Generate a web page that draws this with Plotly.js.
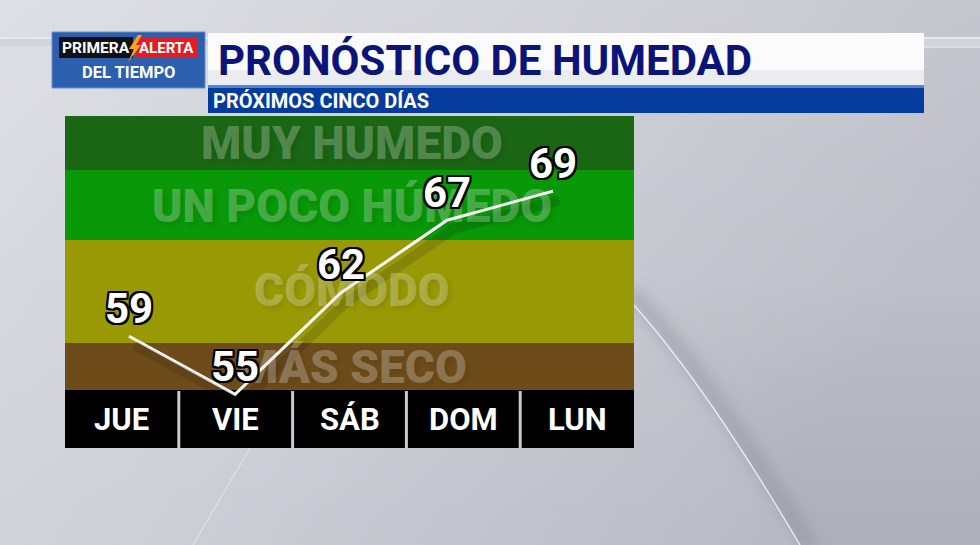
<!DOCTYPE html>
<html>
<head>
<meta charset="utf-8">
<script src="https://cdn.plot.ly/plotly-3.0.1.min.js"></script>
<style>
  html, body { margin: 0; padding: 0; background: #c8c9d1; }
  #chart { width: 980px; height: 545px; }
</style>
</head>
<body>
<div id="chart"></div>
<script>
// Five-day humidity outlook
const days = ['JUE', 'VIE', 'SÁB', 'DOM', 'LUN'];
const humidity = [59, 55, 62, 67, 69];
const bandLabels = ['MUY HUMEDO', 'UN POCO HÚMEDO', 'CÓMODO', 'MÁS SECO'];

const titleText = 'PRONÓSTICO DE HUMEDAD';
const subtitleText = 'PRÓXIMOS CINCO DÍAS';
const logoTop = ['PRIMERA', 'ALERTA'];
const logoBottom = 'DEL TIEMPO';

// ---- page geometry (pixels) ----
const W = 980, H = 545;
const X = p => p / W;          // pixel -> paper x
const Y = p => 1 - p / H;      // pixel -> paper y
const plot = { l: 65, r: 634, t: 116, b: 448 };
const bandEdges = [116, 170, 240, 343, 390];
const bandColors = ['#1a6614', '#089808', '#999906', '#6e4c1a'];
const bandTextY = [143, 206, 290, 367];
const bandTextX = 352;

const FONT = "Roboto, 'Liberation Sans', sans-serif";

// ---- background artwork ----
const bgSvg =
  "<svg xmlns='http://www.w3.org/2000/svg' width='980' height='545' viewBox='0 0 980 545'>" +
  "<defs>" +
  "<linearGradient id='g' x1='0' y1='0' x2='1' y2='0.35'>" +
  "<stop offset='0' stop-color='#dadbe1'/><stop offset='0.45' stop-color='#cdced6'/>" +
  "<stop offset='1' stop-color='#b9bac4'/></linearGradient>" +
  "<linearGradient id='v' x1='0' y1='0' x2='0' y2='1'>" +
  "<stop offset='0' stop-color='#ffffff' stop-opacity='0.12'/><stop offset='1' stop-color='#ffffff' stop-opacity='0'/></linearGradient>" +
  "<linearGradient id='d' gradientUnits='userSpaceOnUse' x1='0' y1='280' x2='0' y2='545'>" +
  "<stop offset='0' stop-color='#3c3d55' stop-opacity='0'/><stop offset='1' stop-color='#3c3d55' stop-opacity='0.09'/></linearGradient>" +
  "<filter id='b' x='-20%' y='-20%' width='140%' height='140%'><feGaussianBlur stdDeviation='7'/></filter>" +
  "</defs>" +
  "<rect width='980' height='545' fill='url(#g)'/>" +
  "<rect width='980' height='545' fill='url(#v)'/>" +
  "<rect x='0' y='37' width='980' height='11' fill='#d3d4db'/>" +
  "<line x1='0' y1='38' x2='980' y2='38' stroke='#eeeff3' stroke-width='1.5'/>" +
  "<line x1='0' y1='47' x2='980' y2='47' stroke='#e6e7ec' stroke-width='1'/>" +
  "<path d='M560 230 L620 290 Q698 372 800 545 L980 545 L980 230 Z' fill='url(#d)'/>" +
  "<path d='M620 290 Q698 372 800 545' transform='translate(10,2)' stroke='#7c7d8c' stroke-width='16' stroke-opacity='0.33' fill='none' filter='url(#b)'/>" +
  "<path d='M620 290 Q698 372 800 545' stroke='#eeeff3' stroke-width='1.3' fill='none'/>" +
  "<line x1='250' y1='448' x2='193' y2='545' stroke='#e6e7ec' stroke-width='1.2' stroke-opacity='0.8'/>" +
  "</svg>";
const bgUri = 'data:image/svg+xml;charset=utf-8,' + encodeURIComponent(bgSvg);

// ---- shapes ----
const rectPx = (x0, y0, x1, y1, fill, extra) => Object.assign({
  type: 'rect', xref: 'paper', yref: 'paper',
  x0: X(x0), x1: X(x1), y0: Y(y1), y1: Y(y0),
  fillcolor: fill, line: { width: 0 }, layer: 'below'
}, extra || {});

const shapes = [];
// humidity bands
for (let i = 0; i < bandColors.length; i++) {
  shapes.push(rectPx(plot.l, bandEdges[i], plot.r, bandEdges[i + 1], bandColors[i]));
}
// black day bar with separators
shapes.push(rectPx(plot.l, bandEdges[bandEdges.length - 1], plot.r, plot.b, '#000000'));
for (let i = 0; i < days.length - 1; i++) {
  shapes.push({
    type: 'line', xref: 'x2', yref: 'paper',
    x0: i + 0.5, x1: i + 0.5, y0: Y(plot.b), y1: Y(bandEdges[bandEdges.length - 1] + 1),
    line: { color: '#c9cad1', width: 3 }, layer: 'above'
  });
}

// header: logo block
shapes.push(rectPx(52, 32, 205, 88, '#2c5fae', { line: { color: '#6a90cc', width: 1 } }));
shapes.push(rectPx(59, 37, 133, 58, '#111111'));
shapes.push(rectPx(135, 37, 197, 58, '#e31b23'));
const bolt = [[138, 35], [129, 49], [134, 49], [128, 62], [141, 45], [136, 45], [142, 35]];
shapes.push({
  type: 'path', xref: 'paper', yref: 'paper', layer: 'below',
  path: 'M' + bolt.map(p => X(p[0]).toFixed(5) + ',' + Y(p[1]).toFixed(5)).join(' L') + ' Z',
  fillcolor: '#f6a31c', line: { width: 0 }
});
// header: title box and subtitle bar
shapes.push(rectPx(208, 33, 924, 85, '#fbfbfc'));
shapes.push(rectPx(208, 70, 924, 85, 'rgba(205,208,218,0.35)'));
shapes.push(rectPx(208, 85, 924, 88, '#4d86d8'));
shapes.push(rectPx(208, 88, 924, 113, '#063b9e'));

// ---- annotations ----
const annotations = [];
const txt = (text, xpx, ypx, size, color, anchor, extraFont) => ({
  text: text, xref: 'paper', yref: 'paper', x: X(xpx), y: Y(ypx),
  xanchor: anchor || 'center', yanchor: 'middle', showarrow: false,
  font: Object.assign({ family: FONT, size: size, color: color, weight: 'bold' }, extraFont || {})
});

annotations.push(txt(logoTop[0], 96, 48, 15.5, '#ffffff'));
annotations.push(txt(logoTop[1], 166, 48, 15, '#ffffff'));
annotations.push(txt(logoBottom, 128, 73, 16.5, '#ffffff'));
annotations.push(txt(titleText, 216, 60, 42, '#0b1478', 'left'));
annotations.push(txt(subtitleText, 211, 101, 20, '#ffffff', 'left'));

// category names across the bands
bandLabels.forEach((label, i) => {
  annotations.push(txt(label, bandTextX, bandTextY[i], 46, 'rgba(255,255,255,0.26)', 'center',
    { weight: 900, shadow: '3px 3px 5px rgba(0,0,0,0.35)' }));
});

// day names in the bottom bar
days.forEach((d, i) => {
  annotations.push({
    text: d, xref: 'x2', yref: 'paper', x: i, y: Y(419),
    xanchor: 'center', yanchor: 'middle', showarrow: false,
    font: { family: FONT, size: 31, color: '#ffffff', weight: 'bold' }
  });
});

// value labels above each point
const outline = '-2px -2px 0 #000, 2px -2px 0 #000, -2px 2px 0 #000, 2px 2px 0 #000, ' +
                '0 -2px 0 #000, 0 2px 0 #000, -2px 0 0 #000, 2px 0 0 #000';
humidity.forEach((v, i) => {
  annotations.push({
    text: String(v), xref: 'x', yref: 'y', x: i, y: v, yshift: 28,
    xanchor: 'center', yanchor: 'middle', showarrow: false,
    font: { family: FONT, size: 42, color: '#ffffff', weight: 'bold', shadow: outline }
  });
});

// ---- traces ----
const xIdx = days.map((_, i) => i);
const traces = [
  { // soft shadow under the line
    x: xIdx, y: humidity, xaxis: 'x3', yaxis: 'y3', type: 'scatter', mode: 'lines',
    line: { color: 'rgba(20,20,20,0.15)', width: 10 }, hoverinfo: 'skip', cliponaxis: false
  },
  {
    x: xIdx, y: humidity, xaxis: 'x', yaxis: 'y', type: 'scatter', mode: 'lines',
    line: { color: '#ffffff', width: 3 }, cliponaxis: false, name: 'Humedad'
  }
];

const xRange = [-0.604, 4.764];
const yRange = [51.3, 74.18];
const xDom = [X(plot.l), X(plot.r)];
const yDom = [Y(plot.b), Y(plot.t)];
const hidden = { visible: false, fixedrange: true };

const layout = {
  width: W, height: H,
  margin: { l: 0, r: 0, t: 0, b: 0 },
  paper_bgcolor: '#c8c9d1',
  plot_bgcolor: 'rgba(0,0,0,0)',
  showlegend: false,
  xaxis: Object.assign({ domain: xDom, range: xRange }, hidden),
  yaxis: Object.assign({ domain: yDom, range: yRange }, hidden),
  xaxis2: Object.assign({ overlaying: 'x', range: [-0.5, 4.5] }, hidden),
  xaxis3: Object.assign({ domain: [X(plot.l + 6), X(plot.r + 6)], range: xRange, anchor: 'y3' }, hidden),
  yaxis3: Object.assign({ domain: [Y(plot.b + 9), Y(plot.t + 9)], range: yRange, anchor: 'x3' }, hidden),
  images: [{
    source: bgUri, xref: 'paper', yref: 'paper', x: 0, y: 1, sizex: 1, sizey: 1,
    xanchor: 'left', yanchor: 'top', sizing: 'stretch', layer: 'below'
  }],
  shapes: shapes,
  annotations: annotations
};

Plotly.newPlot('chart', traces, layout, { displayModeBar: false, staticPlot: true });
</script>
</body>
</html>
